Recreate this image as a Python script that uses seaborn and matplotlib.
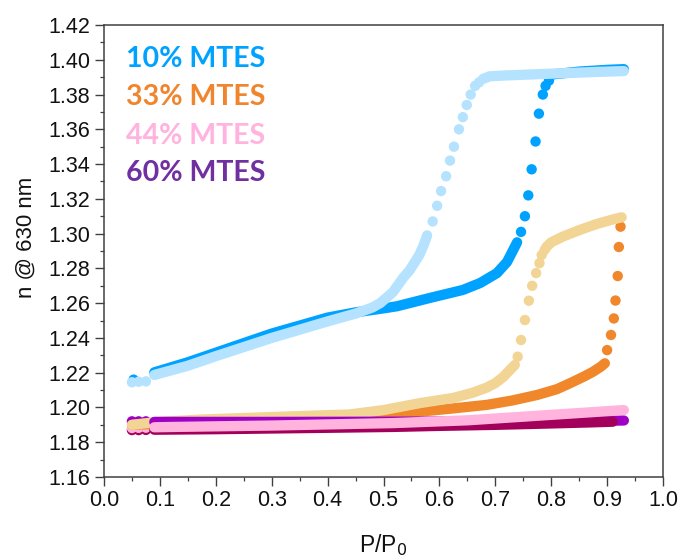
import matplotlib
matplotlib.use("Agg")
import matplotlib.pyplot as plt
import seaborn as sns
from matplotlib.ticker import MultipleLocator, AutoMinorLocator, FormatStrFormatter

sns.set_theme(style="ticks")
plt.rcParams["font.family"] = ["Liberation Sans", "DejaVu Sans"]

# ---------------- data ----------------
legend_labels = ["10% MTES", "33% MTES", "44% MTES", "60% MTES"]
legend_colors = ["#00A2FF", "#F0852D", "#FFB3DE", "#7030A0"]

# 10% MTES adsorption (dark blue)
b_ads_dot1_x = [0.053]
b_ads_dot1_y = [1.2160]
b_ads_band1_x = [0.09, 0.15, 0.20, 0.30, 0.40, 0.45, 0.50, 0.524, 0.583, 0.642, 0.673, 0.703, 0.721, 0.732, 0.739]
b_ads_band1_y = [1.2202, 1.2260, 1.2315, 1.2425, 1.2517, 1.2547, 1.2570, 1.2582, 1.2630, 1.2676, 1.2716, 1.2773, 1.2837, 1.2906, 1.2950]
b_ads_dots_x = [0.746, 0.753, 0.759, 0.765, 0.772, 0.778, 0.785, 0.790, 0.796]
b_ads_dots_y = [1.3010, 1.3100, 1.3220, 1.3370, 1.3530, 1.3690, 1.3800, 1.3850, 1.3880]
b_ads_band2_x = [0.800, 0.850, 0.900, 0.930]
b_ads_band2_y = [1.3915, 1.3932, 1.3942, 1.3946]

# 10% MTES desorption (light blue)
b_des_dot1_x = [0.050, 0.062, 0.075]
b_des_dot1_y = [1.2145, 1.2148, 1.2150]
b_des_band1_x = [0.09, 0.15, 0.20, 0.30, 0.40, 0.45, 0.48, 0.494, 0.517, 0.535, 0.547, 0.556, 0.564, 0.572, 0.578]
b_des_band1_y = [1.2187, 1.2240, 1.2295, 1.2400, 1.2495, 1.2540, 1.2575, 1.2600, 1.2664, 1.2745, 1.2790, 1.2836, 1.2877, 1.2935, 1.2990]
b_des_dots_x = [0.588, 0.596, 0.603, 0.612, 0.619, 0.626, 0.635, 0.642, 0.649, 0.656, 0.664, 0.671]
b_des_dots_y = [1.3070, 1.3160, 1.3245, 1.3330, 1.3420, 1.3500, 1.3600, 1.3670, 1.3740, 1.3800, 1.3850, 1.3870]
b_des_band2_x = [0.678, 0.690, 0.720, 0.800, 0.880, 0.930]
b_des_band2_y = [1.3890, 1.3905, 1.3910, 1.3920, 1.3930, 1.3935]

# 33% MTES adsorption (orange)
o_ads_band_x = [0.05, 0.09, 0.20, 0.30, 0.40, 0.50, 0.565, 0.62, 0.685, 0.73, 0.775, 0.81, 0.834, 0.86, 0.875, 0.889, 0.896]
o_ads_band_y = [1.1900, 1.1905, 1.1912, 1.1922, 1.1935, 1.1955, 1.1976, 1.1993, 1.2015, 1.2040, 1.2072, 1.2105, 1.2140, 1.2180, 1.2206, 1.2235, 1.2254]
o_ads_dots_x = [0.900, 0.907, 0.912, 0.915, 0.919, 0.921, 0.924]
o_ads_dots_y = [1.2330, 1.2417, 1.2512, 1.2615, 1.2756, 1.2923, 1.3040]

# 33% MTES desorption (tan)
o_des_band1_x = [0.05, 0.09, 0.17, 0.30, 0.44, 0.50, 0.565, 0.625, 0.66, 0.685, 0.70, 0.714, 0.726, 0.735]
o_des_band1_y = [1.1900, 1.1915, 1.1930, 1.1945, 1.1960, 1.1985, 1.2025, 1.2055, 1.2085, 1.2115, 1.2140, 1.2175, 1.2215, 1.2245]
o_des_dots_x = [0.740, 0.746, 0.753, 0.760, 0.766, 0.773, 0.779, 0.783]
o_des_dots_y = [1.2292, 1.2388, 1.2503, 1.2614, 1.2700, 1.2773, 1.2830, 1.2877]
o_des_band2_x = [0.788, 0.792, 0.800, 0.821, 0.851, 0.881, 0.911, 0.926]
o_des_band2_y = [1.2905, 1.2925, 1.2950, 1.2983, 1.3021, 1.3055, 1.3082, 1.3094]

# 60% MTES (purple)
p_dot1_x = [0.050, 0.062, 0.075]
p_dot1_y = [1.1920, 1.1920, 1.1920]
p_band_x = [0.09, 0.30, 0.50, 0.70, 0.85, 0.93]
p_band_y = [1.1917, 1.1917, 1.1918, 1.1920, 1.1922, 1.1925]

# 44% MTES adsorption (crimson)
c_dot1_x = [0.050, 0.062, 0.075]
c_dot1_y = [1.1870, 1.1870, 1.1871]
c_band_x = [0.09, 0.20, 0.30, 0.40, 0.517, 0.60, 0.70, 0.80, 0.87, 0.91]
c_band_y = [1.1872, 1.1875, 1.1879, 1.1883, 1.1888, 1.1894, 1.1900, 1.1908, 1.1914, 1.1918]

# 44% MTES desorption (pink)
k_dot1_x = [0.050, 0.062, 0.075]
k_dot1_y = [1.1882, 1.1883, 1.1884]
k_band_x = [0.09, 0.126, 0.30, 0.517, 0.65, 0.75, 0.85, 0.93]
k_band_y = [1.1886, 1.1888, 1.1896, 1.1910, 1.1926, 1.1947, 1.1968, 1.1985]

# ---------------- plotting ----------------
fig = plt.figure(figsize=(6.84, 5.6), dpi=100)
ax = fig.add_axes([104 / 684, 83 / 560, 559 / 684, 452 / 560])

LW = 7.4
S = 56


def band(x, y, c):
    sns.lineplot(x=x, y=y, sort=False, estimator=None, color=c, linewidth=LW,
                 solid_capstyle="round", solid_joinstyle="round", ax=ax, legend=False)


def dots(x, y, c):
    sns.scatterplot(x=x, y=y, color=c, s=S, linewidth=0, edgecolor="none", ax=ax, legend=False)


C_BA, C_BD = "#00A2FF", "#B5E3FF"
C_OA, C_OD = "#F0872B", "#F2D595"
C_P, C_C, C_K = "#9F00C5", "#A3005C", "#FFB3DD"

# orange / tan
band(o_ads_band_x, o_ads_band_y, C_OA)
dots(o_ads_dots_x, o_ads_dots_y, C_OA)
band(o_des_band1_x, o_des_band1_y, C_OD)
dots(o_des_dots_x, o_des_dots_y, C_OD)
band(o_des_band2_x, o_des_band2_y, C_OD)

# purple / crimson / pink
dots(p_dot1_x, p_dot1_y, C_P)
band(p_band_x, p_band_y, C_P)
dots(c_dot1_x, c_dot1_y, C_C)
band(c_band_x, c_band_y, C_C)
dots(k_dot1_x, k_dot1_y, C_K)
band(k_band_x, k_band_y, C_K)

# blue
dots(b_ads_dot1_x, b_ads_dot1_y, C_BA)
band(b_ads_band1_x, b_ads_band1_y, C_BA)
dots(b_ads_dots_x, b_ads_dots_y, C_BA)
band(b_ads_band2_x, b_ads_band2_y, C_BA)
dots(b_des_dot1_x, b_des_dot1_y, C_BD)
band(b_des_band1_x, b_des_band1_y, C_BD)
dots(b_des_dots_x, b_des_dots_y, C_BD)
band(b_des_band2_x, b_des_band2_y, C_BD)

# axes
ax.set_xlim(0.0, 1.0)
ax.set_ylim(1.16, 1.42)
ax.xaxis.set_major_locator(MultipleLocator(0.1))
ax.xaxis.set_minor_locator(AutoMinorLocator(2))
ax.yaxis.set_major_locator(MultipleLocator(0.02))
ax.yaxis.set_minor_locator(AutoMinorLocator(2))
ax.xaxis.set_major_formatter(FormatStrFormatter("%.1f"))
ax.yaxis.set_major_formatter(FormatStrFormatter("%.2f"))

spine_c = "#404040"
for sp in ax.spines.values():
    sp.set_visible(True)
    sp.set_color(spine_c)
    sp.set_linewidth(1.1)

ax.tick_params(axis="both", which="major", direction="out", length=6.5, width=1.0,
               color=spine_c, labelsize=15.5, labelcolor="#111111", top=False, right=False)
ax.tick_params(axis="both", which="minor", direction="out", length=3, width=0.9,
               color=spine_c, top=False, right=False)
ax.tick_params(axis="y", which="major", pad=3.5)
ax.tick_params(axis="x", which="major", pad=3)

ax.set_ylabel("n @ 630 nm", fontsize=16, color="#111111")
ax.set_xlabel("P/P$_0$", fontsize=16.5, color="#111111")
ax.yaxis.set_label_coords(-0.12, 0.53)
ax.xaxis.set_label_coords(0.5, -0.122)

# coloured text legend
leg_y = [0.925, 0.8407, 0.7555, 0.6715]
for lab, col, yy in zip(legend_labels, legend_colors, leg_y):
    ax.text(0.039, yy, lab, transform=ax.transAxes, color=col, fontsize=20.5,
            fontweight="bold", family=["Lato", "DejaVu Sans"], va="center", ha="left")

fig.savefig("out.png", dpi=100)
